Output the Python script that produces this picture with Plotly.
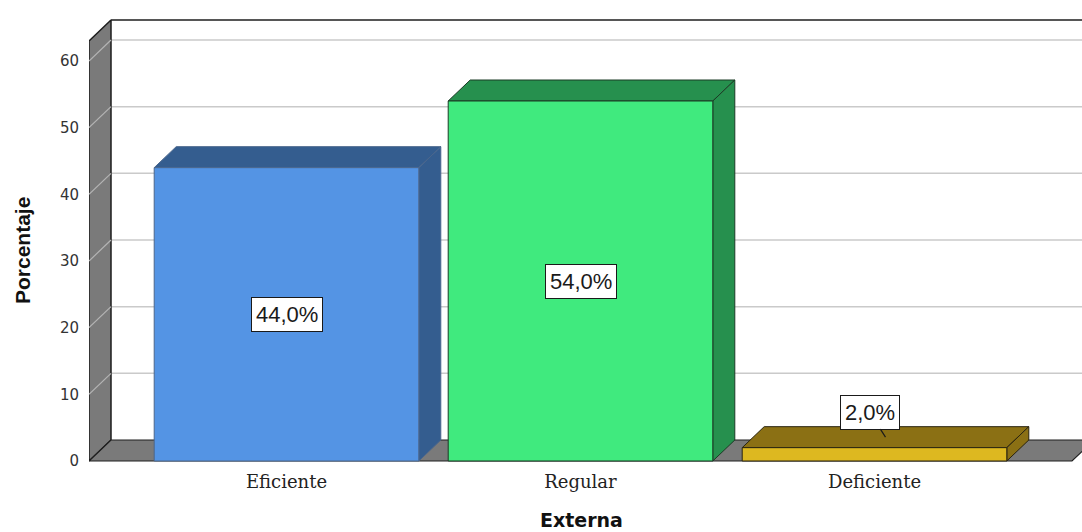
import plotly.graph_objects as go

# Data
categories = ["Eficiente", "Regular", "Deficiente"]
percentages = [44.0, 54.0, 2.0]
y_ticks = [0, 10, 20, 30, 40, 50, 60]

# Styling
front_colors = ["#5494E4", "#40EA7E", "#DDB820"]
shade_colors = ["#345D8F", "#26904E", "#8B7014"]
edge_colors = ["#4A668C", "#1B3B25", "#2A2410"]
wall_color = "#7A7A7A"

# 3D geometry (axis units)
DX = 22 / 294          # depth offset along x
DY = 21 / 6.667        # depth offset along y
BAR_W = 0.9
WALL_H = 63
X_MIN = (89 - 286.5) / 294
X_MAX = (1082 - 286.5) / 294
X_FLOOR_R = (1072 - 286.5) / 294

fig = go.Figure()


def poly(xs, ys, fill, line_color, width=1.0):
    fig.add_trace(go.Scatter(
        x=list(xs) + [xs[0]], y=list(ys) + [ys[0]],
        mode="lines", fill="toself", fillcolor=fill,
        line=dict(color=line_color, width=width),
        hoverinfo="skip", showlegend=False,
    ))


def line(xs, ys, color, width=1.0):
    fig.add_trace(go.Scatter(
        x=xs, y=ys, mode="lines", line=dict(color=color, width=width),
        hoverinfo="skip", showlegend=False,
    ))


# Back-wall gridlines
gx, gy = [], []
for v in y_ticks[1:]:
    gx += [X_MIN + DX, X_MAX, None]
    gy += [v + DY, v + DY, None]
line(gx, gy, "#CACACA", 1.5)

# Side wall
poly([X_MIN, X_MIN, X_MIN + DX, X_MIN + DX],
     [0, WALL_H, WALL_H + DY, DY], wall_color, "#1E1E1E", 1.5)

# Side-wall gridlines
sx, sy = [], []
for v in y_ticks[1:]:
    sx += [X_MIN, X_MIN + DX, None]
    sy += [v, v + DY, None]
line(sx, sy, "#B4B4B4", 1.2)

# Back-wall top edge
line([X_MIN + DX, X_MAX], [WALL_H + DY, WALL_H + DY], "#1E1E1E", 1.5)

# Floor
poly([X_MIN, X_MIN + DX, X_FLOOR_R + DX, X_FLOOR_R],
     [0, DY, DY, 0], wall_color, "#1E1E1E", 1.2)

# Bars
for i, v in enumerate(percentages):
    x0, x1 = i - BAR_W / 2, i + BAR_W / 2
    ec = edge_colors[i]
    poly([x0, x0 + DX, x1 + DX, x1], [v, v + DY, v + DY, v], shade_colors[i], ec)
    poly([x1, x1 + DX, x1 + DX, x1], [0, DY, v + DY, v], shade_colors[i], ec)
    poly([x0, x1, x1, x0], [0, 0, v, v], front_colors[i], ec)

# Value labels
for i, v in enumerate(percentages):
    label = f"{v:.1f}".replace(".", ",") + "%"
    common = dict(
        text=label, xref="x", yref="y",
        font=dict(family="Liberation Sans, Arial, sans-serif", size=22, color="#1A1A1A"),
        bgcolor="white", bordercolor="#1A1A1A", borderwidth=1, borderpad=4,
    )
    if v >= 10:
        fig.add_annotation(x=i, y=v / 2, showarrow=False, **common)
    else:
        fig.add_annotation(
            x=i + DX / 2, y=v + DY / 2, showarrow=True, arrowhead=0,
            arrowwidth=1.2, arrowcolor="#1A1A1A", ax=-16, ay=-25, **common,
        )

# Axis titles
fig.add_annotation(
    text="<b>Porcentaje</b>", xref="paper", yref="paper",
    x=(22 - 89) / (1082 - 89), y=(463 - 251) / 444, showarrow=False,
    xanchor="center", yanchor="middle", textangle=-90,
    font=dict(family="Liberation Sans, Arial, sans-serif", size=21, color="#111111"),
)
fig.add_annotation(
    text="<b>Externa</b>", xref="paper", yref="paper",
    x=(581 - 89) / (1082 - 89), y=(463 - 520) / 444, showarrow=False,
    xanchor="center", yanchor="middle",
    font=dict(family="DejaVu Sans, Verdana, sans-serif", size=19, color="#111111"),
)

fig.update_layout(
    width=1082, height=532,
    margin=dict(l=89, r=0, t=19, b=69),
    paper_bgcolor="white", plot_bgcolor="white",
    xaxis=dict(
        range=[X_MIN, X_MAX], showgrid=False, zeroline=False, showline=False,
        tickvals=list(range(len(categories))), ticktext=categories, ticks="",
        tickfont=dict(family="DejaVu Serif, serif", size=18, color="#222222"),
        ticklabelstandoff=6, fixedrange=True,
    ),
    yaxis=dict(
        range=[-0.3, 66.3], showgrid=False, zeroline=False, showline=False,
        tickvals=y_ticks, ticktext=[str(t) for t in y_ticks], ticks="",
        tickfont=dict(family="DejaVu Sans, Verdana, sans-serif", size=15, color="#333333"),
        ticklabelstandoff=9, fixedrange=True,
    ),
)

fig.write_html("out.html")
